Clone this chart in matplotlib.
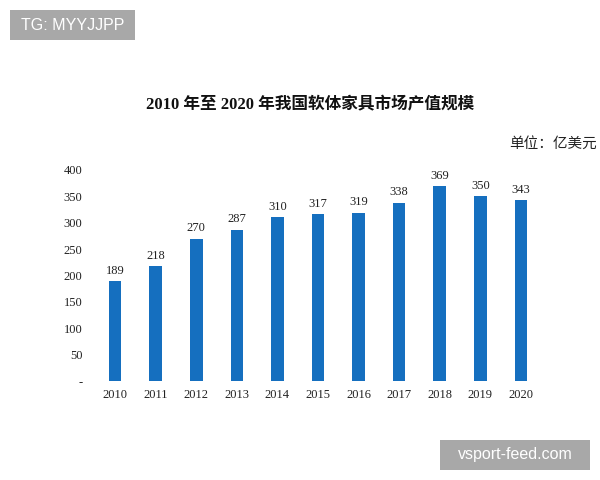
import matplotlib
matplotlib.use("Agg")
import matplotlib.pyplot as plt
from matplotlib.patches import Rectangle

years = ["2010", "2011", "2012", "2013", "2014", "2015", "2016", "2017", "2018", "2019", "2020"]
values = [189, 218, 270, 287, 310, 317, 319, 338, 369, 350, 343]
yticks = [0, 50, 100, 150, 200, 250, 300, 350, 400]
ytick_labels = ["-", "50", "100", "150", "200", "250", "300", "350", "400"]

serif = ["Liberation Serif", "Noto Sans CJK SC"]
plt.rcParams["font.family"] = serif

fig = plt.figure(figsize=(6, 4.8), dpi=100)
ax = fig.add_axes([0.158, 0.206, 0.744, 0.44])
x = list(range(len(years)))
bars = ax.bar(x, values, width=0.31, color="#156fbf")
for xi, v in zip(x, values):
    ax.text(xi, v + 8, str(v), ha="center", va="bottom", fontsize=9, color="#222222", clip_on=False)
ax.set_xlim(-0.5, len(years) - 0.5)
ax.set_ylim(0, 400)
ax.set_xticks(x)
ax.set_xticklabels(years, fontsize=9, color="#222222")
ax.set_yticks(yticks)
ax.set_yticklabels(ytick_labels, fontsize=9, color="#222222")
ax.tick_params(axis="both", length=0)
ax.tick_params(axis="y", pad=9)
ax.tick_params(axis="x", pad=6)
for s in ax.spines.values():
    s.set_visible(False)

fig.text(0.517, 0.78, "2010 年至 2020 年我国软体家具市场产值规模", ha="center", va="center",
         fontsize=12, fontweight="bold", family=serif, color="#111111")
fig.text(0.995, 0.70, "单位：亿美元", ha="right", va="center", fontsize=10.5,
         family=["Noto Sans CJK SC"], color="#222222")

# watermark boxes
def watermark(x0, y0, x1, y1, label):
    fig.patches.append(Rectangle((x0, y0), x1 - x0, y1 - y0, transform=fig.transFigure,
                                 facecolor="#a8a8a8", edgecolor="none", zorder=5))
    fig.text((x0 + x1) / 2, (y0 + y1) / 2, label, ha="center", va="center", fontsize=11.5,
             color="white", family=["Liberation Sans", "DejaVu Sans"], zorder=6)

watermark(10 / 600, 1 - 40 / 480, 135 / 600, 1 - 10 / 480, "TG: MYYJJPP")
watermark(440 / 600, 1 - 470 / 480, 590 / 600, 1 - 440 / 480, "vsport-feed.com")

fig.savefig("out.png", dpi=100)
